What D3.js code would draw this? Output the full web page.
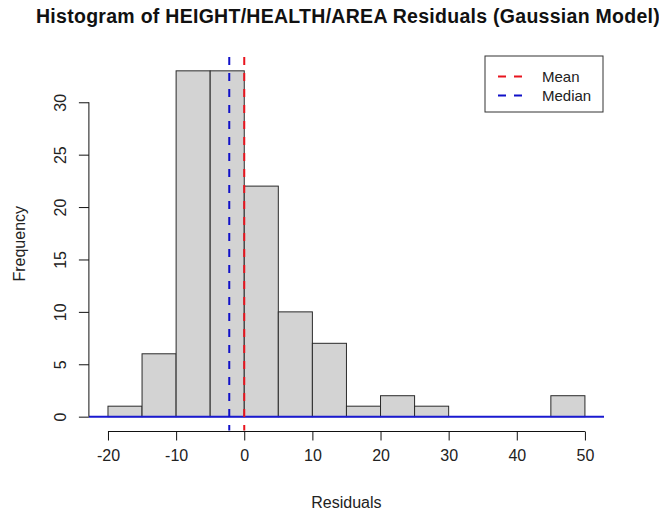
<!DOCTYPE html>
<html>
<head>
<meta charset="utf-8">
<script src="https://cdn.jsdelivr.net/npm/d3@7"></script>
<style>
  html, body { margin: 0; padding: 0; background: #fff; overflow: hidden; }
  svg { display: block; font-family: "Liberation Sans", Arial, sans-serif; }
</style>
</head>
<body>
<svg id="chart" width="659" height="516"></svg>
<script>
// Histogram bins (left edges, width 5) and their counts
const binEdges = [-20, -15, -10, -5, 0, 5, 10, 15, 20, 25, 30, 35, 40, 45, 50];
const binCounts = [1, 6, 33, 33, 22, 10, 7, 1, 2, 1, 0, 0, 0, 2];

// Summary lines
const meanValue = 0.0;
const medianValue = -2.2;

// Axis ticks
const xTicks = [-20, -10, 0, 10, 20, 30, 40, 50];
const yTicks = [0, 5, 10, 15, 20, 25, 30];

const legendLabels = ["Mean", "Median"];
const legendColors = ["#e8141e", "#1010c8"];

const svg = d3.select("#chart");
const fmt = d => String(d); // plain hyphen-minus, as in base graphics

// Plot region (4% padding around the data range)
const xMin = -20, xMax = 50, yMax = 33;
const xPad = (xMax - xMin) * 0.04, yPad = yMax * 0.04;
const x = d3.scaleLinear().domain([xMin - xPad, xMax + xPad]).range([88.9, 604]);
const y = d3.scaleLinear().domain([-yPad, yMax + yPad]).range([430.5, 57]);

const bins = binCounts.map((c, i) => ({ x0: binEdges[i], x1: binEdges[i + 1], count: c }));

// Bars
svg.append("g").selectAll("rect")
  .data(bins.filter(d => d.count > 0))
  .join("rect")
  .attr("x", d => x(d.x0))
  .attr("y", d => y(d.count))
  .attr("width", d => x(d.x1) - x(d.x0))
  .attr("height", d => y(0) - y(d.count))
  .attr("fill", "#d3d3d3")
  .attr("stroke", "#2a2a2a")
  .attr("stroke-width", 1);

// Baseline at zero
svg.append("line")
  .attr("x1", x(xMin - xPad)).attr("x2", x(xMax + xPad))
  .attr("y1", y(0)).attr("y2", y(0))
  .attr("stroke", "#1a1ad0").attr("stroke-width", 2);

// Mean and median vertical dashed lines
const vlines = [
  { v: medianValue, color: legendColors[1] },
  { v: meanValue, color: legendColors[0] }
];
svg.append("g").selectAll("line")
  .data(vlines)
  .join("line")
  .attr("x1", d => x(d.v)).attr("x2", d => x(d.v))
  .attr("y1", y(yMax + yPad)).attr("y2", y(-yPad))
  .attr("stroke", d => d.color)
  .attr("stroke-width", 2)
  .attr("stroke-dasharray", "8,8");

// X axis
const xAxis = svg.append("g")
  .attr("transform", `translate(0,${y(-yPad) + 1})`)
  .call(d3.axisBottom(x).tickValues(xTicks).tickSize(9).tickSizeOuter(0).tickPadding(9).tickFormat(fmt));
xAxis.select(".domain").attr("d", `M${x(xMin)},0H${x(xMax)}`);
xAxis.selectAll("path, line").attr("stroke", "#111");
xAxis.selectAll("text").attr("font-size", 16).attr("fill", "#222")
  .attr("font-family", "Liberation Sans, Arial, sans-serif");

// Y axis
const yAxis = svg.append("g")
  .attr("transform", `translate(${x(xMin - xPad)},0)`)
  .call(d3.axisLeft(y).tickValues(yTicks).tickSize(10).tickSizeOuter(0).tickFormat(fmt));
yAxis.select(".domain").attr("d", `M0,${y(0)}V${y(30)}`);
yAxis.selectAll("path, line").attr("stroke", "#111");
yAxis.selectAll("text")
  .attr("font-size", 16).attr("fill", "#222")
  .attr("font-family", "Liberation Sans, Arial, sans-serif")
  .attr("x", null)
  .attr("text-anchor", "middle")
  .attr("transform", "translate(-29,0) rotate(-90)")
  .attr("dy", "0.35em");

// Titles
svg.append("text")
  .attr("x", 36).attr("y", 23)
  .attr("text-anchor", "start")
  .attr("font-size", 19.5).attr("font-weight", "bold").attr("fill", "#111")
  .attr("letter-spacing", 0.28)
  .text("Histogram of HEIGHT/HEALTH/AREA Residuals (Gaussian Model)");

svg.append("text")
  .attr("x", (x.range()[0] + x.range()[1]) / 2).attr("y", 508)
  .attr("text-anchor", "middle")
  .attr("font-size", 16).attr("fill", "#222")
  .text("Residuals");

svg.append("text")
  .attr("transform", `translate(25,${(y.range()[0] + y.range()[1]) / 2}) rotate(-90)`)
  .attr("text-anchor", "middle")
  .attr("font-size", 16).attr("fill", "#222")
  .text("Frequency");

// Legend
const lg = svg.append("g").attr("transform", "translate(485,56)");
lg.append("rect").attr("width", 118).attr("height", 56)
  .attr("fill", "#fff").attr("stroke", "#333").attr("stroke-width", 1);
const items = lg.selectAll("g.item")
  .data(legendLabels)
  .join("g").attr("class", "item")
  .attr("transform", (d, i) => `translate(0,${20.5 + i * 19})`);
items.append("line")
  .attr("x1", 13).attr("x2", 41)
  .attr("stroke", (d, i) => legendColors[i])
  .attr("stroke-width", 2).attr("stroke-dasharray", "8,8");
items.append("text")
  .attr("x", 57).attr("dy", "0.35em")
  .attr("font-size", 15).attr("fill", "#222")
  .text(d => d);
</script>
</body>
</html>
